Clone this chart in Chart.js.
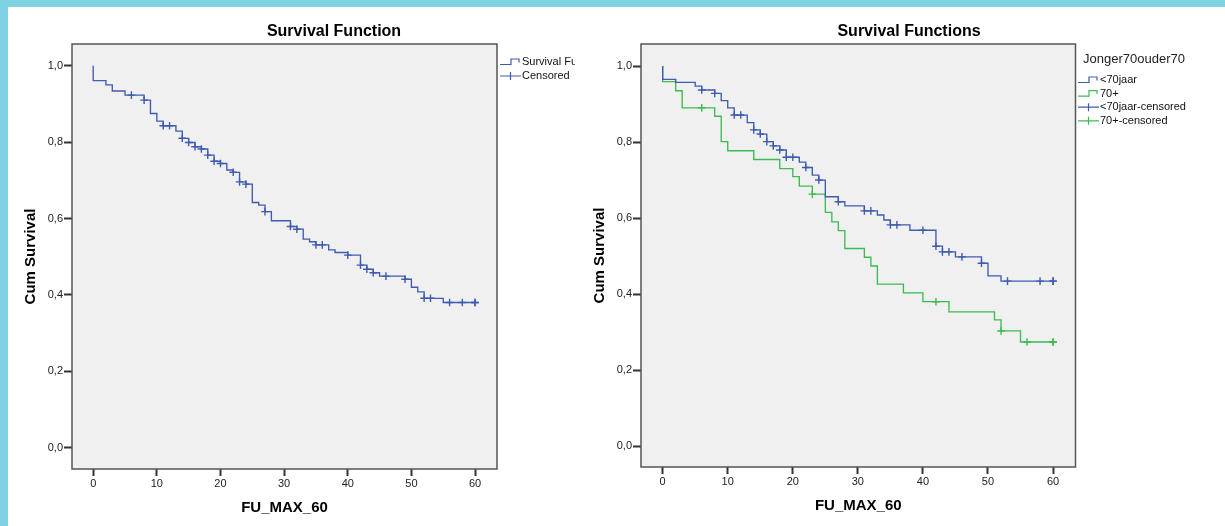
<!DOCTYPE html>
<html>
<head>
<meta charset="utf-8">
<script src="https://cdn.jsdelivr.net/npm/chart.js@4.4.1/dist/chart.umd.min.js"></script>
<style>
  html, body { margin: 0; padding: 0; }
  body { width: 1225px; height: 526px; background: #7fd2e2; position: relative; overflow: hidden; }
  #sheet { position: absolute; left: 8px; top: 7px; right: 0; bottom: 0; background: #ffffff; }
  .box { position: absolute; top: 7px; height: 519px; overflow: hidden; }
  #boxA { left: 8px; width: 567px; }
  #boxB { left: 575px; width: 650px; }
  canvas { display: block; }
</style>
</head>
<body>
<div id="sheet"></div>
<div class="box" id="boxA"><canvas id="chartA" width="567" height="519"></canvas></div>
<div class="box" id="boxB"><canvas id="chartB" width="650" height="519"></canvas></div>
<script>
// Axis ticks
const xTickValues = [0, 10, 20, 30, 40, 50, 60];
const yTickValues = [0, 0.2, 0.4, 0.6, 0.8, 1.0];

// Kaplan-Meier estimate, all patients (time in months, survival after each event)
const allTimes = [0, 0, 2, 3, 5, 8, 9, 10, 11, 13, 14, 15, 16, 17, 18, 19, 20, 21, 22, 23, 24, 25, 26, 27, 28, 31, 32, 33, 34, 35, 37, 38, 40, 42, 43, 44, 45, 49, 50, 51, 52, 55, 60];
const allSurvival = [1, 0.961, 0.950, 0.934, 0.923, 0.910, 0.875, 0.855, 0.843, 0.829, 0.810, 0.799, 0.788, 0.782, 0.766, 0.750, 0.744, 0.727, 0.721, 0.696, 0.690, 0.642, 0.635, 0.618, 0.594, 0.579, 0.572, 0.546, 0.539, 0.531, 0.518, 0.511, 0.504, 0.478, 0.467, 0.458, 0.449, 0.441, 0.420, 0.408, 0.391, 0.380, 0.380];
const allCensored = [6, 8, 11, 12, 14, 15, 16, 17, 18, 19, 20, 22, 23, 24, 27, 31, 32, 35, 36, 40, 42, 43, 44, 46, 49, 52, 53, 56, 58, 60, 60];

// Group <70jaar
const youngTimes = [0, 0, 2, 5, 6, 8, 9, 10, 11, 13, 14, 15, 16, 17, 18, 19, 21, 22, 23, 24, 25, 27, 28, 31, 33, 34, 35, 38, 42, 43, 45, 49, 50, 52, 60];
const youngSurvival = [1, 0.965, 0.957, 0.947, 0.937, 0.928, 0.909, 0.890, 0.871, 0.851, 0.832, 0.821, 0.801, 0.790, 0.779, 0.760, 0.747, 0.733, 0.713, 0.700, 0.656, 0.643, 0.632, 0.619, 0.608, 0.595, 0.582, 0.568, 0.526, 0.511, 0.498, 0.481, 0.448, 0.434, 0.434];
const youngCensored = [6, 8, 11, 12, 14, 15, 16, 17, 18, 19, 20, 22, 24, 27, 31, 32, 35, 36, 40, 42, 43, 44, 46, 49, 53, 58, 60, 60];

// Group 70+
const oldTimes = [0, 0, 2, 3, 8, 9, 10, 14, 18, 20, 21, 23, 25, 26, 27, 28, 31, 32, 33, 37, 40, 44, 51, 52, 55, 60];
const oldSurvival = [1, 0.959, 0.935, 0.890, 0.868, 0.801, 0.777, 0.754, 0.730, 0.709, 0.684, 0.663, 0.615, 0.590, 0.567, 0.520, 0.497, 0.474, 0.426, 0.403, 0.380, 0.353, 0.332, 0.303, 0.274, 0.274];
const oldCensored = [6, 23, 42, 52, 56, 60, 60];

const FONT = '"Liberation Sans", Arial, sans-serif';
const BLUE = '#3e5bb0';
const GREEN = '#3dbb50';

function curvePoints(times, surv) {
  return times.map((t, i) => ({ x: t, y: surv[i] }));
}
// a censored case sits on the curve level in force at its time
function censorPoints(times, surv, cens) {
  return cens.map(c => {
    let k = 0;
    for (let i = 0; i < times.length; i++) if (times[i] <= c) k = i;
    return { x: c, y: surv[k] };
  });
}

function stepSet(label, times, surv, color) {
  return { label, data: curvePoints(times, surv), stepped: 'before', borderColor: color,
           borderWidth: 1.35, pointRadius: 0, fill: false };
}
function censorSet(label, times, surv, cens, color) {
  return { label, data: censorPoints(times, surv, cens), showLine: false, pointStyle: 'cross',
           pointRadius: 3.8, pointBorderColor: color, pointBorderWidth: 1.4, pointBackgroundColor: color };
}

function axes(cfg) {
  const tickFont = { family: FONT, size: 11 };
  const titleFont = { family: FONT, size: 15, weight: 'bold' };
  return {
    x: {
      type: 'linear', min: -3.33, max: 63.45,
      afterBuildTicks(s) { s.ticks = xTickValues.map(v => ({ value: v })); },
      afterFit(s) { s.height = cfg.xHeight; },
      border: { display: false },
      grid: { drawOnChartArea: false, drawTicks: true, tickLength: 7, tickWidth: 2, tickColor: '#333' },
      ticks: { font: tickFont, color: '#222', padding: 1, maxRotation: 0, autoSkip: false,
               callback: v => String(v) },
      title: { display: true, text: 'FU_MAX_60', font: titleFont, color: '#000',
               padding: { top: 0, bottom: cfg.xTitlePad } }
    },
    y: {
      type: 'linear', min: cfg.yMin, max: cfg.yMax,
      afterBuildTicks(s) { s.ticks = yTickValues.map(v => ({ value: v })); },
      afterFit(s) { s.width = cfg.yWidth; },
      border: { display: false },
      grid: { drawOnChartArea: false, drawTicks: true, tickLength: 8, tickWidth: 2, tickColor: '#333' },
      ticks: { font: tickFont, color: '#222', padding: 1, autoSkip: false,
               callback: v => v.toFixed(1).replace('.', ',') },
      title: { display: true, text: 'Cum Survival', font: titleFont, color: '#000',
               padding: { top: cfg.yTitlePad, bottom: 0 } }
    }
  };
}

function stepIcon(ctx, x, y, color) {
  ctx.strokeStyle = color; ctx.lineWidth = 1.2;
  ctx.beginPath();
  ctx.moveTo(x, y + 2.5); ctx.lineTo(x + 11, y + 2.5); ctx.lineTo(x + 11, y - 3);
  ctx.lineTo(x + 19, y - 3); ctx.lineTo(x + 19, y + 0.5);
  ctx.stroke();
}
function crossIcon(ctx, x, y, color) {
  ctx.strokeStyle = color; ctx.lineWidth = 1.2;
  ctx.beginPath();
  ctx.moveTo(x, y); ctx.lineTo(x + 21, y);
  ctx.moveTo(x + 10.5, y - 4); ctx.lineTo(x + 10.5, y + 4);
  ctx.stroke();
}

// plot panel background, frame, heading and key
function decor(cfg) {
  return {
    id: 'decor',
    beforeDatasetsDraw(chart) {
      const { ctx, chartArea: a } = chart;
      ctx.save();
      ctx.fillStyle = '#f0f0f0';
      ctx.fillRect(a.left, a.top, a.right - a.left, a.bottom - a.top);
      ctx.strokeStyle = '#555';
      ctx.lineWidth = 1.5;
      ctx.strokeRect(a.left, a.top, a.right - a.left, a.bottom - a.top);
      ctx.restore();
    },
    afterDraw(chart) {
      const ctx = chart.ctx;
      ctx.save();
      ctx.fillStyle = '#000';
      ctx.font = 'bold 16px ' + FONT;
      ctx.textAlign = 'center';
      ctx.textBaseline = 'middle';
      ctx.fillText(cfg.title, cfg.titleX, cfg.titleY);
      ctx.textAlign = 'left';
      if (cfg.keyTitle) {
        ctx.font = '13px ' + FONT;
        ctx.fillStyle = '#222';
        ctx.fillText(cfg.keyTitle, cfg.keyTitleX, cfg.keyTitleY);
      }
      ctx.font = '11px ' + FONT;
      cfg.key.forEach((item, i) => {
        const y = cfg.keyY + i * cfg.keyStep;
        if (item.kind === 'step') stepIcon(ctx, cfg.keyX, y, item.color);
        else crossIcon(ctx, cfg.keyX, y, item.color);
        ctx.fillStyle = '#111';
        ctx.fillText(item.text, cfg.keyX + 22, y);
      });
      ctx.restore();
    }
  };
}

function makeChart(id, datasets, ax, deco, padRight) {
  return new Chart(document.getElementById(id), {
    type: 'line',
    data: { datasets },
    options: {
      responsive: false, animation: false, devicePixelRatio: 1,
      layout: { padding: { left: 0, right: padRight, top: 37, bottom: 0 } },
      plugins: { legend: { display: false }, tooltip: { enabled: false }, title: { display: false } },
      scales: ax
    },
    plugins: [deco]
  });
}

makeChart('chartA',
  [stepSet('Survival Function', allTimes, allSurvival, BLUE),
   censorSet('Censored', allTimes, allSurvival, allCensored, BLUE)],
  axes({ xHeight: 57, yWidth: 64, yMin: -0.056, yMax: 1.057, xTitlePad: 9, yTitlePad: 14 }),
  decor({ title: 'Survival Function', titleX: 326, titleY: 24.5,
          keyX: 492, keyY: 55, keyStep: 14,
          key: [{ kind: 'step', color: BLUE, text: 'Survival Function' },
                { kind: 'cross', color: BLUE, text: 'Censored' }] }),
  78);

makeChart('chartB',
  [stepSet('<70jaar', youngTimes, youngSurvival, BLUE),
   stepSet('70+', oldTimes, oldSurvival, GREEN),
   censorSet('<70jaar-censored', youngTimes, youngSurvival, youngCensored, BLUE),
   censorSet('70+-censored', oldTimes, oldSurvival, oldCensored, GREEN)],
  axes({ xHeight: 59, yWidth: 66, yMin: -0.055, yMax: 1.058, xTitlePad: 11, yTitlePad: 16 }),
  decor({ title: 'Survival Functions', titleX: 334, titleY: 25,
          keyTitle: 'Jonger70ouder70', keyTitleX: 508, keyTitleY: 52,
          keyX: 503, keyY: 73, keyStep: 13.6,
          key: [{ kind: 'step', color: BLUE, text: '<70jaar' },
                { kind: 'step', color: GREEN, text: '70+' },
                { kind: 'cross', color: BLUE, text: '<70jaar-censored' },
                { kind: 'cross', color: GREEN, text: '70+-censored' }] }),
  149.5);
</script>
</body>
</html>
